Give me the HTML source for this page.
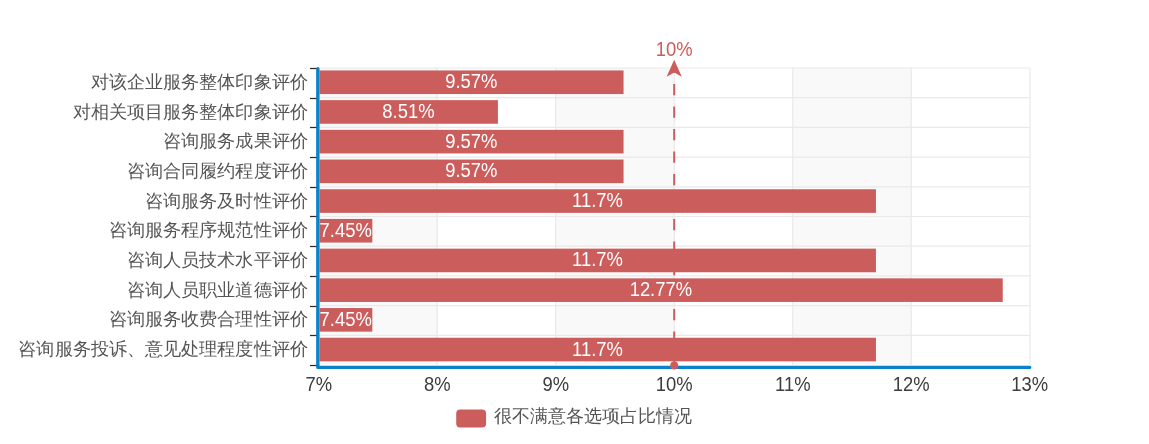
<!DOCTYPE html><html><head><meta charset="utf-8"><style>html,body{margin:0;padding:0;background:#fff;}body{width:1149px;height:444px;overflow:hidden;position:relative;font-family:"Liberation Sans",sans-serif;}svg{position:absolute;left:0;top:0;will-change:transform;}</style></head><body>
<svg width="1149" height="444" viewBox="0 0 1149 444" font-family="Liberation Sans, sans-serif">
<rect x="0" y="0" width="1149" height="444" fill="#fff"/>
<rect x="319.00" y="68.0" width="118.50" height="297.0" fill="#f9f9f9"/>
<rect x="556.00" y="68.0" width="118.50" height="297.0" fill="#f9f9f9"/>
<rect x="793.00" y="68.0" width="118.50" height="297.0" fill="#f9f9f9"/>
<line x1="437.20" y1="68.0" x2="437.20" y2="365.0" stroke="#e9e9e9" stroke-width="1.2"/>
<line x1="555.70" y1="68.0" x2="555.70" y2="365.0" stroke="#e9e9e9" stroke-width="1.2"/>
<line x1="674.20" y1="68.0" x2="674.20" y2="365.0" stroke="#e9e9e9" stroke-width="1.2"/>
<line x1="792.70" y1="68.0" x2="792.70" y2="365.0" stroke="#e9e9e9" stroke-width="1.2"/>
<line x1="911.20" y1="68.0" x2="911.20" y2="365.0" stroke="#e9e9e9" stroke-width="1.2"/>
<line x1="1030.00" y1="68.0" x2="1030.00" y2="365.0" stroke="#e9e9e9" stroke-width="1.2"/>
<line x1="319.0" y1="68.00" x2="1030.0" y2="68.00" stroke="#e9e9e9" stroke-width="1.2"/>
<line x1="319.0" y1="97.70" x2="1030.0" y2="97.70" stroke="#e9e9e9" stroke-width="1.2"/>
<line x1="319.0" y1="127.40" x2="1030.0" y2="127.40" stroke="#e9e9e9" stroke-width="1.2"/>
<line x1="319.0" y1="157.10" x2="1030.0" y2="157.10" stroke="#e9e9e9" stroke-width="1.2"/>
<line x1="319.0" y1="186.80" x2="1030.0" y2="186.80" stroke="#e9e9e9" stroke-width="1.2"/>
<line x1="319.0" y1="216.50" x2="1030.0" y2="216.50" stroke="#e9e9e9" stroke-width="1.2"/>
<line x1="319.0" y1="246.20" x2="1030.0" y2="246.20" stroke="#e9e9e9" stroke-width="1.2"/>
<line x1="319.0" y1="275.90" x2="1030.0" y2="275.90" stroke="#e9e9e9" stroke-width="1.2"/>
<line x1="319.0" y1="305.60" x2="1030.0" y2="305.60" stroke="#e9e9e9" stroke-width="1.2"/>
<line x1="319.0" y1="335.30" x2="1030.0" y2="335.30" stroke="#e9e9e9" stroke-width="1.2"/>
<rect x="319.6" y="70.45" width="303.95" height="23.6" fill="#cb5d5c"/>
<rect x="319.6" y="100.15" width="178.33" height="23.6" fill="#cb5d5c"/>
<rect x="319.6" y="129.85" width="303.95" height="23.6" fill="#cb5d5c"/>
<rect x="319.6" y="159.55" width="303.95" height="23.6" fill="#cb5d5c"/>
<rect x="319.6" y="189.25" width="556.35" height="23.6" fill="#cb5d5c"/>
<rect x="319.6" y="218.95" width="52.73" height="23.6" fill="#cb5d5c"/>
<rect x="319.6" y="248.65" width="556.35" height="23.6" fill="#cb5d5c"/>
<rect x="319.6" y="278.35" width="683.14" height="23.6" fill="#cb5d5c"/>
<rect x="319.6" y="308.05" width="52.73" height="23.6" fill="#cb5d5c"/>
<rect x="319.6" y="337.75" width="556.35" height="23.6" fill="#cb5d5c"/>
<path d="M317.85,68.7 L317.85,367.4 L1029.7,367.4" fill="none" stroke="#0683c9" stroke-width="3.4" stroke-linecap="round" stroke-linejoin="round"/>
<line x1="310" y1="68.50" x2="316.5" y2="68.50" stroke="#2a2a2a" stroke-width="1.25"/>
<line x1="310" y1="98.50" x2="316.5" y2="98.50" stroke="#2a2a2a" stroke-width="1.25"/>
<line x1="310" y1="127.50" x2="316.5" y2="127.50" stroke="#2a2a2a" stroke-width="1.25"/>
<line x1="310" y1="157.50" x2="316.5" y2="157.50" stroke="#2a2a2a" stroke-width="1.25"/>
<line x1="310" y1="187.50" x2="316.5" y2="187.50" stroke="#2a2a2a" stroke-width="1.25"/>
<line x1="310" y1="216.50" x2="316.5" y2="216.50" stroke="#2a2a2a" stroke-width="1.25"/>
<line x1="310" y1="246.50" x2="316.5" y2="246.50" stroke="#2a2a2a" stroke-width="1.25"/>
<line x1="310" y1="276.50" x2="316.5" y2="276.50" stroke="#2a2a2a" stroke-width="1.25"/>
<line x1="310" y1="306.50" x2="316.5" y2="306.50" stroke="#2a2a2a" stroke-width="1.25"/>
<line x1="310" y1="335.50" x2="316.5" y2="335.50" stroke="#2a2a2a" stroke-width="1.25"/>
<line x1="310" y1="365.50" x2="316.5" y2="365.50" stroke="#2a2a2a" stroke-width="1.25"/>
<g transform="translate(471.27,0) scale(0.95,1)"><text x="0" y="88.25" text-anchor="middle" font-size="19.4" fill="#fff">9.57%</text></g>
<g transform="translate(408.47,0) scale(0.95,1)"><text x="0" y="117.95" text-anchor="middle" font-size="19.4" fill="#fff">8.51%</text></g>
<g transform="translate(471.27,0) scale(0.95,1)"><text x="0" y="147.65" text-anchor="middle" font-size="19.4" fill="#fff">9.57%</text></g>
<g transform="translate(471.27,0) scale(0.95,1)"><text x="0" y="177.35" text-anchor="middle" font-size="19.4" fill="#fff">9.57%</text></g>
<g transform="translate(597.47,0) scale(0.95,1)"><text x="0" y="207.05" text-anchor="middle" font-size="19.4" fill="#fff">11.7%</text></g>
<g transform="translate(345.66,0) scale(0.95,1)"><text x="0" y="236.75" text-anchor="middle" font-size="19.4" fill="#fff">7.45%</text></g>
<g transform="translate(597.47,0) scale(0.95,1)"><text x="0" y="266.45" text-anchor="middle" font-size="19.4" fill="#fff">11.7%</text></g>
<g transform="translate(660.87,0) scale(0.95,1)"><text x="0" y="296.15" text-anchor="middle" font-size="19.4" fill="#fff">12.77%</text></g>
<g transform="translate(345.66,0) scale(0.95,1)"><text x="0" y="325.85" text-anchor="middle" font-size="19.4" fill="#fff">7.45%</text></g>
<g transform="translate(597.47,0) scale(0.95,1)"><text x="0" y="355.55" text-anchor="middle" font-size="19.4" fill="#fff">11.7%</text></g>
<g transform="translate(307.8,0) scale(1.01,1)"><text x="0" y="87.85" text-anchor="end" font-size="18" fill="#555">对该企业服务整体印象评价</text></g>
<g transform="translate(307.8,0) scale(1.01,1)"><text x="0" y="117.55" text-anchor="end" font-size="18" fill="#555">对相关项目服务整体印象评价</text></g>
<g transform="translate(307.8,0) scale(1.01,1)"><text x="0" y="147.25" text-anchor="end" font-size="18" fill="#555">咨询服务成果评价</text></g>
<g transform="translate(307.8,0) scale(1.01,1)"><text x="0" y="176.95" text-anchor="end" font-size="18" fill="#555">咨询合同履约程度评价</text></g>
<g transform="translate(307.8,0) scale(1.01,1)"><text x="0" y="206.65" text-anchor="end" font-size="18" fill="#555">咨询服务及时性评价</text></g>
<g transform="translate(307.8,0) scale(1.01,1)"><text x="0" y="236.35" text-anchor="end" font-size="18" fill="#555">咨询服务程序规范性评价</text></g>
<g transform="translate(307.8,0) scale(1.01,1)"><text x="0" y="266.05" text-anchor="end" font-size="18" fill="#555">咨询人员技术水平评价</text></g>
<g transform="translate(307.8,0) scale(1.01,1)"><text x="0" y="295.75" text-anchor="end" font-size="18" fill="#555">咨询人员职业道德评价</text></g>
<g transform="translate(307.8,0) scale(1.01,1)"><text x="0" y="325.45" text-anchor="end" font-size="18" fill="#555">咨询服务收费合理性评价</text></g>
<g transform="translate(307.8,0) scale(1.01,1)"><text x="0" y="355.15" text-anchor="end" font-size="18" fill="#555">咨询服务投诉、意见处理程度性评价</text></g>
<g transform="translate(318.80,0) scale(0.95,1)"><text x="0" y="391.30" text-anchor="middle" font-size="19.4" fill="#3d3d3d">7%</text></g>
<g transform="translate(437.30,0) scale(0.95,1)"><text x="0" y="391.30" text-anchor="middle" font-size="19.4" fill="#3d3d3d">8%</text></g>
<g transform="translate(555.80,0) scale(0.95,1)"><text x="0" y="391.30" text-anchor="middle" font-size="19.4" fill="#3d3d3d">9%</text></g>
<g transform="translate(674.30,0) scale(0.95,1)"><text x="0" y="391.30" text-anchor="middle" font-size="19.4" fill="#3d3d3d">10%</text></g>
<g transform="translate(792.80,0) scale(0.95,1)"><text x="0" y="391.30" text-anchor="middle" font-size="19.4" fill="#3d3d3d">11%</text></g>
<g transform="translate(911.30,0) scale(0.95,1)"><text x="0" y="391.30" text-anchor="middle" font-size="19.4" fill="#3d3d3d">12%</text></g>
<g transform="translate(1029.80,0) scale(0.95,1)"><text x="0" y="391.30" text-anchor="middle" font-size="19.4" fill="#3d3d3d">13%</text></g>
<line x1="674.2" y1="365.25" x2="674.2" y2="72" stroke="#cb5d5c" stroke-width="2" stroke-dasharray="11.25 11.25"/>
<circle cx="674.2" cy="365.4" r="4" fill="#cb5d5c"/>
<path d="M674.2,59.8 L681.8000000000001,76.7 L674.2,72.6 L666.6,76.7 Z" fill="#cb5d5c"/>
<g transform="translate(674.20,0) scale(0.95,1)"><text x="0" y="56.00" text-anchor="middle" font-size="19.4" fill="#cb5d5c">10%</text></g>
<rect x="456.2" y="409.5" width="29.9" height="17.9" rx="4" ry="4" fill="#cb5d5c"/>
<text x="493.5" y="422.35" font-size="18" fill="#555">很不满意各选项占比情况</text>
</svg></body></html>
